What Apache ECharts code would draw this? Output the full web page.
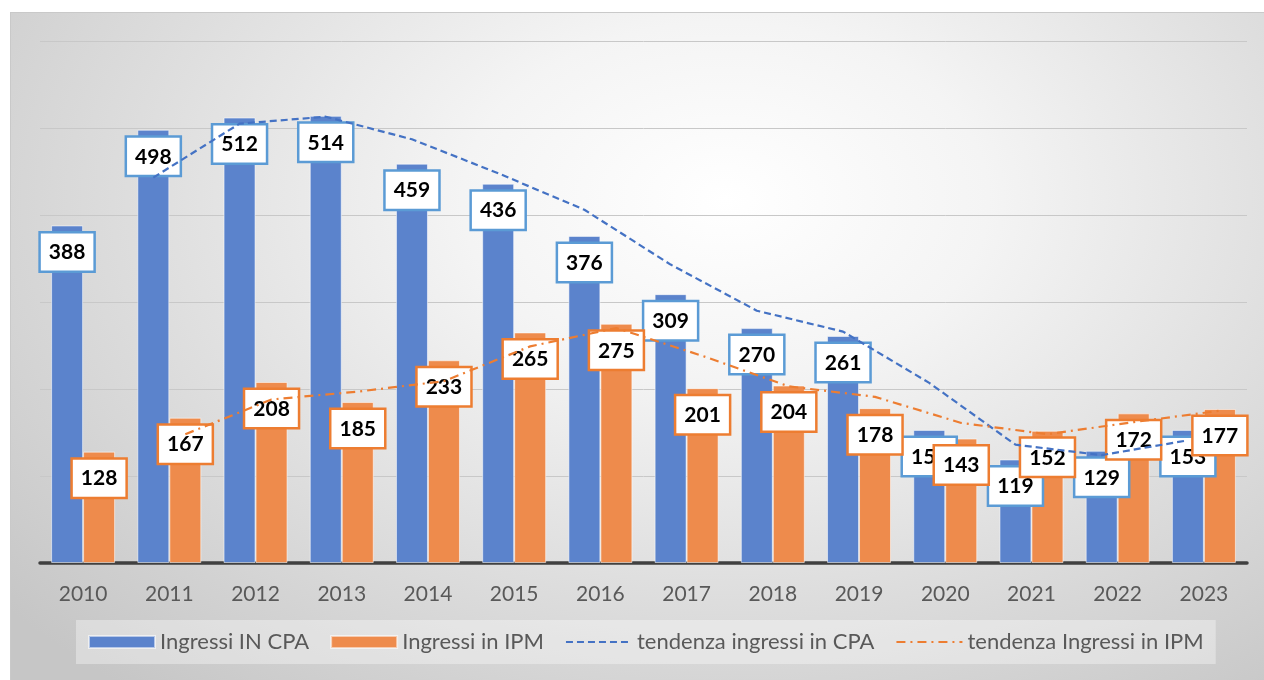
<!DOCTYPE html>
<html>
<head>
<meta charset="utf-8">
<script src="https://cdn.jsdelivr.net/npm/echarts@6/dist/echarts.min.js"></script>
<style>
  html, body { margin: 0; padding: 0; background: #fff; }
  #wrap {
    position: absolute; left: 10px; top: 12px; width: 1254px; height: 668px;
    border-left: 1px solid #c9c9c9; border-top: 1px solid #c9c9c9; box-sizing: border-box;
    background: radial-gradient(ellipse 75% 95% at 57% 28%, #ffffff 0%, #f4f4f4 28%, #dedede 62%, #c6c6c6 100%);
  }
  #chart { position: absolute; left: 0; top: 0; width: 1264px; height: 680px; }
</style>
</head>
<body>
<div id="wrap"></div>
<div id="chart"></div>
<script>
const years = ["2010", "2011", "2012", "2013", "2014", "2015", "2016", "2017", "2018", "2019", "2020", "2021", "2022", "2023"];
const ingressiCPA = [388, 498, 512, 514, 459, 436, 376, 309, 270, 261, 153, 119, 129, 153];
const ingressiIPM = [128, 167, 208, 185, 233, 265, 275, 201, 204, 178, 143, 152, 172, 177];
// trend lines (no point for 2010)
const tendenzaCPA = [null, 443, 505, 513, 487, 448, 406, 343, 290, 266, 207, 136, 124, 141];
const tendenzaIPM = [null, 148, 188, 197, 209, 249, 270, 238, 203, 191, 161, 148, 162, 175];

const blue = "#5b83cc";
const orange = "#ee8b4c";
const font = "Lato";

const chart = echarts.init(document.getElementById("chart"));

function boxLabel(border) {
  return {
    show: true,
    position: "insideTop",
    distance: 8,
    fontFamily: font,
    fontSize: 21,
    fontWeight: "bold",
    color: "#000",
    lineHeight: 22,
    backgroundColor: "#fff",
    borderColor: border,
    borderWidth: 2.5,
    padding: [8, 8, 7, 8],
  };
}

const hiddenY = (i) => ({
  type: "value", gridIndex: i, min: 0, max: 600, interval: 100,
  show: false, splitLine: { show: false },
});
const hiddenX = (i) => ({
  type: "category", gridIndex: i, data: years, show: false,
  boundaryGap: true,
});

const options = {
  backgroundColor: "transparent",
  animation: false,
  grid: [
    { left: 40, right: 17, top: 41, bottom: 117 },
    // trend lines sit over their own bars (shifted half a bar)
    { left: 24, right: 33, top: 41, bottom: 117 },
    { left: 56, right: 1, top: 41, bottom: 117 },
  ],
  xAxis: [
    {
      type: "category",
      gridIndex: 0,
      data: years,
      axisLine: { lineStyle: { color: "#404040", width: 3.5 } },
      axisTick: { show: false },
      axisLabel: { fontFamily: font, fontSize: 21, color: "#595959", margin: 21 },
    },
    hiddenX(1),
    hiddenX(2),
  ],
  yAxis: [
    {
      type: "value",
      gridIndex: 0,
      min: 0,
      max: 600,
      interval: 100,
      axisLabel: { show: false },
      axisLine: { show: false },
      axisTick: { show: false },
      splitLine: { lineStyle: { color: "#c8c8c8", width: 1 } },
    },
    hiddenY(1),
    hiddenY(2),
  ],
  legend: {
    bottom: 16,
    left: 76,
    itemWidth: 66,
    itemHeight: 12,
    itemGap: 21,
    padding: [11, 12, 11, 12],
    backgroundColor: "rgba(255,255,255,0.35)",
    textStyle: { fontFamily: font, fontSize: 22, color: "#595959" },
    data: [
      { name: "Ingressi IN CPA", icon: "rect" },
      { name: "Ingressi in IPM", icon: "rect" },
      { name: "tendenza ingressi in CPA", itemStyle: { opacity: 0 } },
      { name: "tendenza Ingressi in IPM", itemStyle: { opacity: 0 } },
    ],
  },
  series: [
    {
      name: "Ingressi IN CPA",
      type: "bar",
      data: ingressiCPA,
      barWidth: 32,
      barGap: "0%",
      itemStyle: { color: blue, borderColor: "rgba(255,255,255,0.55)", borderWidth: 1 },
      label: boxLabel("#5b9bd5"),
    },
    {
      name: "Ingressi in IPM",
      type: "bar",
      data: ingressiIPM,
      barWidth: 32,
      barGap: "0%",
      itemStyle: { color: orange, borderColor: "rgba(255,255,255,0.55)", borderWidth: 1 },
      label: boxLabel("#ed7d31"),
    },
    {
      name: "tendenza ingressi in CPA",
      type: "line",
      xAxisIndex: 1,
      yAxisIndex: 1,
      data: tendenzaCPA,
      symbol: "none",
      z: 5,
      itemStyle: { color: "#4472c4" },
      lineStyle: { color: "#4472c4", width: 2.2, type: [7, 4] },
    },
    {
      name: "tendenza Ingressi in IPM",
      type: "line",
      xAxisIndex: 2,
      yAxisIndex: 2,
      data: tendenzaIPM,
      symbol: "none",
      z: 5,
      itemStyle: { color: "#ed7d31" },
      lineStyle: { color: "#ed7d31", width: 2.2, type: [9, 5, 2, 5] },
    },
  ],
};

chart.setOption(options);
</script>
</body>
</html>
